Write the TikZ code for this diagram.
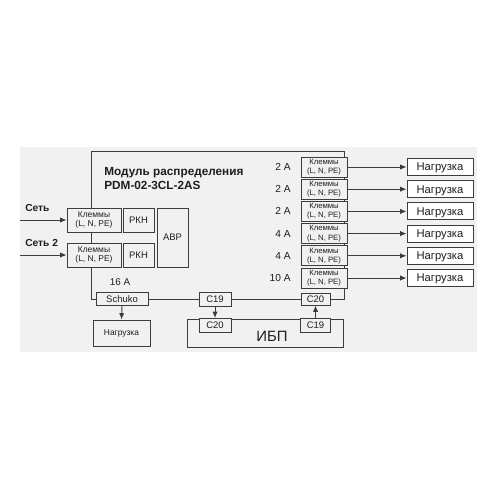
\documentclass[tikz,border=0pt]{standalone}
\usepackage{fontspec}
\setmainfont{Liberation Sans}
\usepackage{xcolor}
\usetikzlibrary{arrows.meta,backgrounds}
\definecolor{pdmBG}{HTML}{F1F1F1}
\definecolor{pdmLn}{HTML}{3C3C3C}
\definecolor{pdmTx}{HTML}{1E1E1E}
\tikzset{
  blk/.style={draw=pdmLn,fill=pdmBG,line width=0.55pt,inner sep=0pt,align=center,text=pdmTx},
  one/.style={blk,text depth=0pt},
  wire/.style={draw=pdmLn,line width=0.55pt},
  feed/.style={wire,-{Latex[length=3.6pt,width=3pt]}},
  lbl/.style={text=pdmTx,inner sep=0pt}
}
\begin{document}
\begin{tikzpicture}[x=0.02cm,y=-0.02cm]
\useasboundingbox (0,0) rectangle (500,500);
\def\kt{\fontsize{4.8}{5.6}\selectfont}\def\ks{\fontsize{4.4}{5.2}\selectfont}
% input side
\node[blk,minimum width=1.08cm,minimum height=0.48cm,font=\kt] (inA) at (94,220) {Клеммы\\(L, N, PE)};
\node[blk,minimum width=1.08cm,minimum height=0.48cm,font=\kt] (inB) at (94,255) {Клеммы\\(L, N, PE)};
\node[one,minimum width=0.62cm,minimum height=0.48cm,font=\fontsize{5.4}{6}\selectfont] (rkhA) at (138.5,220) {РКН};
\node[one,minimum width=0.62cm,minimum height=0.48cm,font=\fontsize{5.4}{6}\selectfont] (rkhB) at (138.5,255) {РКН};
\node[one,minimum width=0.62cm,minimum height=1.18cm,font=\fontsize{5.4}{6}\selectfont] (avr) at (172.5,237.5) {АВР};
\coordinate (netA) at (20,220);\coordinate (netB) at (20,255);
\node[lbl,anchor=west,font=\fontsize{5.8}{6.5}\selectfont\bfseries] (netAl) at (25,208) {Сеть};
\node[lbl,anchor=west,font=\fontsize{5.8}{6.5}\selectfont\bfseries] (netBl) at (25,243) {Сеть 2};
% bottom row
\node[one,minimum width=1.04cm,minimum height=0.26cm,font=\fontsize{5.4}{6}\selectfont] (schuko) at (122,299) {Schuko};
\node[one,minimum width=0.64cm,minimum height=0.28cm,font=\fontsize{5.4}{6}\selectfont] (cA) at (215,299) {C19};
\node[one,minimum width=0.58cm,minimum height=0.24cm,font=\fontsize{5.4}{6}\selectfont] (cB) at (315.5,299) {C20};
\node[blk,minimum width=3.12cm,minimum height=0.56cm] (ups) at (265,333) {};
\node[lbl,font=\fontsize{8.5}{9}\selectfont] (upsl) at (272,336) {ИБП};
\node[one,minimum width=0.64cm,minimum height=0.28cm,font=\fontsize{5.4}{6}\selectfont] (cC) at (215,325.5) {C20};
\node[one,minimum width=0.60cm,minimum height=0.28cm,font=\fontsize{5.4}{6}\selectfont] (cD) at (315.5,325.5) {C19};
\node[one,minimum width=1.14cm,minimum height=0.52cm,font=\fontsize{4.8}{5.5}\selectfont] (loadS) at (121.5,333) {Нагрузка};
\node[lbl,font=\fontsize{5.6}{6}\selectfont] (amp) at (120,282) {16 A};
\node[lbl,anchor=west,align=left,font=\fontsize{6.7}{8}\selectfont\bfseries] (title) at (104,178.5) {Модуль распределения\\PDM-02-3CL-2AS};
% outputs
\node[blk,minimum width=0.92cm,minimum height=0.40cm,font=\ks] (outA) at (324,167) {Клеммы\\(L, N, PE)};
\node[blk,minimum width=0.92cm,minimum height=0.40cm,font=\ks] (outB) at (324,189.2) {Клеммы\\(L, N, PE)};
\node[blk,minimum width=0.92cm,minimum height=0.40cm,font=\ks] (outC) at (324,211.4) {Клеммы\\(L, N, PE)};
\node[blk,minimum width=0.92cm,minimum height=0.40cm,font=\ks] (outD) at (324,233.6) {Клеммы\\(L, N, PE)};
\node[blk,minimum width=0.92cm,minimum height=0.40cm,font=\ks] (outE) at (324,255.8) {Клеммы\\(L, N, PE)};
\node[blk,minimum width=0.92cm,minimum height=0.40cm,font=\ks] (outF) at (324,278) {Клеммы\\(L, N, PE)};
\node[lbl,anchor=east,font=\fontsize{5.8}{6}\selectfont] (ampA) at (291,167) {2 A};
\node[lbl,anchor=east,font=\fontsize{5.8}{6}\selectfont] (ampB) at (291,189.2) {2 A};
\node[lbl,anchor=east,font=\fontsize{5.8}{6}\selectfont] (ampC) at (291,211.4) {2 A};
\node[lbl,anchor=east,font=\fontsize{5.8}{6}\selectfont] (ampD) at (291,233.6) {4 A};
\node[lbl,anchor=east,font=\fontsize{5.8}{6}\selectfont] (ampE) at (291,255.8) {4 A};
\node[lbl,anchor=east,font=\fontsize{5.8}{6}\selectfont] (ampF) at (291,278) {10 A};
\node[one,fill=white,minimum width=1.32cm,minimum height=0.34cm,font=\fontsize{6.4}{7}\selectfont] (loadA) at (440,167) {Нагрузка};
\node[one,fill=white,minimum width=1.32cm,minimum height=0.34cm,font=\fontsize{6.4}{7}\selectfont] (loadB) at (440,189.2) {Нагрузка};
\node[one,fill=white,minimum width=1.32cm,minimum height=0.34cm,font=\fontsize{6.4}{7}\selectfont] (loadC) at (440,211.4) {Нагрузка};
\node[one,fill=white,minimum width=1.32cm,minimum height=0.34cm,font=\fontsize{6.4}{7}\selectfont] (loadD) at (440,233.6) {Нагрузка};
\node[one,fill=white,minimum width=1.32cm,minimum height=0.34cm,font=\fontsize{6.4}{7}\selectfont] (loadE) at (440,255.8) {Нагрузка};
\node[one,fill=white,minimum width=1.32cm,minimum height=0.34cm,font=\fontsize{6.4}{7}\selectfont] (loadF) at (440,278) {Нагрузка};
% module outline and grey field, behind the boxes
\coordinate (modTL) at (91,151);\coordinate (modTR) at (344,151);
\begin{scope}[on background layer]
\fill[pdmBG](20,147)rectangle(477,352);
\draw[wire] (schuko.west) -| (modTL) -- (modTR) |- (cB.east);
\end{scope}
\draw[wire] (schuko.east) -- (cA.west) (cA.east) -- (cB.west);
% connectors
\draw[feed] (netA) -- (inA.west);\draw[feed] (netB) -- (inB.west);
\draw[feed] (outA.east) -- (loadA.west);\draw[feed] (outB.east) -- (loadB.west);
\draw[feed] (outC.east) -- (loadC.west);\draw[feed] (outD.east) -- (loadD.west);
\draw[feed] (outE.east) -- (loadE.west);\draw[feed] (outF.east) -- (loadF.west);
\draw[feed] (schuko.south) -- (loadS.north);
\draw[feed] (cA.south) -- (cC.north);
\draw[feed] (cD.north) -- (cB.south);
\end{tikzpicture}
\end{document}
